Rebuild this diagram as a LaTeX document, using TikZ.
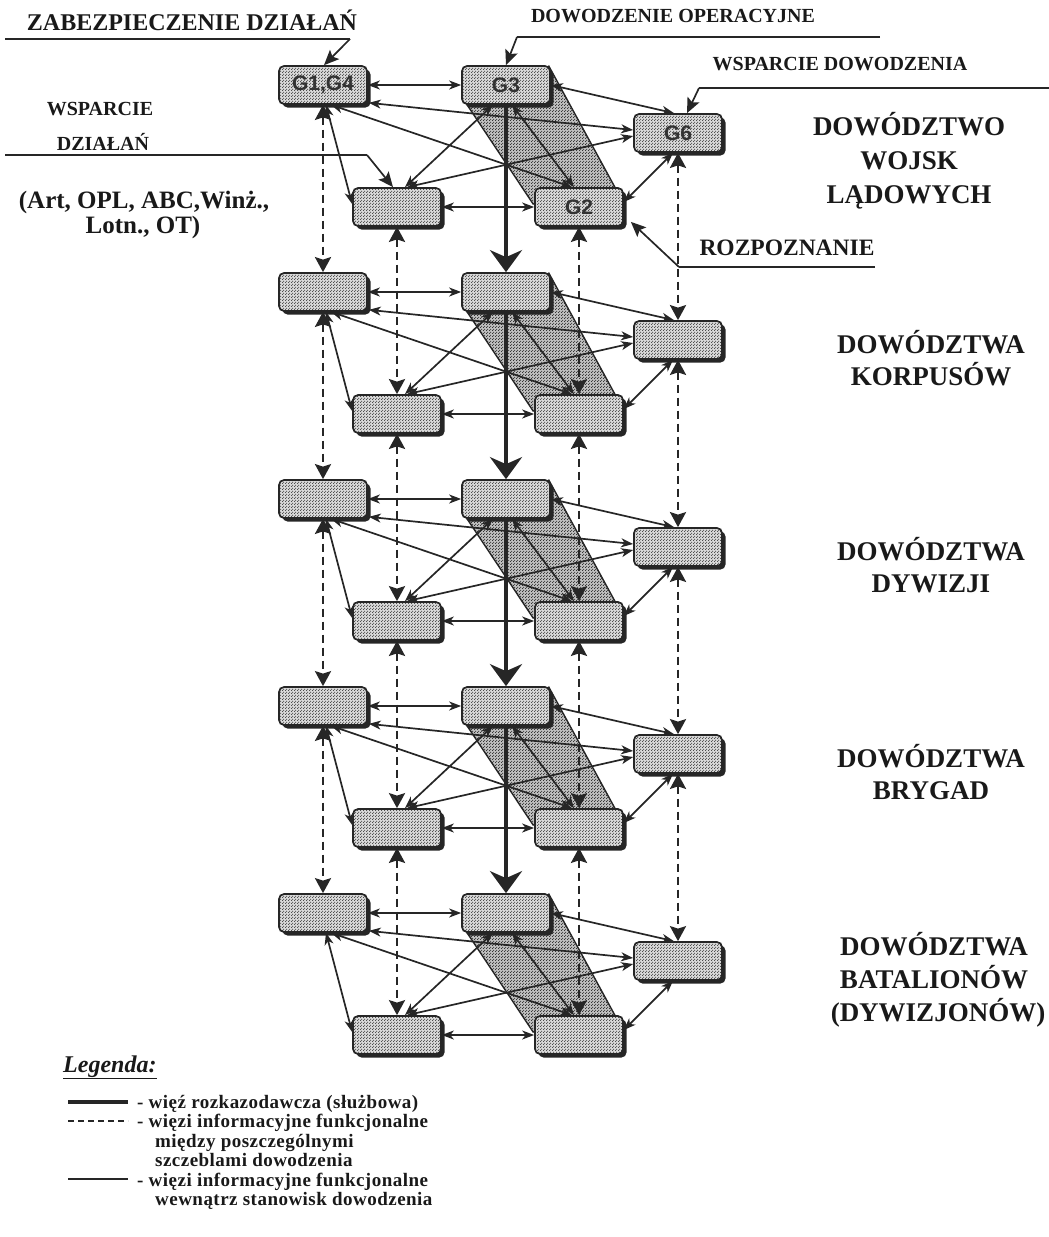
\documentclass[tikz,border=0pt]{standalone}
\usepackage{fontspec}
\setmainfont{Liberation Serif}
\newfontfamily\boxsans{Liberation Sans}
\newfontfamily\legserif[LetterSpace=2.5]{Liberation Serif}
\usetikzlibrary{arrows.meta,calc,patterns,shadows}
\pgfdeclarelayer{bg}
\pgfsetlayers{bg,main}
% fine stipple used for the boxes and the staff bands
\pgfdeclarepatternformonly{stipple}{\pgfpointorigin}{\pgfqpoint{3pt}{3pt}}{\pgfqpoint{3pt}{3pt}}{%
  \pgfpathcircle{\pgfqpoint{0.75pt}{0.75pt}}{0.7pt}%
  \pgfpathcircle{\pgfqpoint{2.25pt}{2.25pt}}{0.7pt}%
  \pgfusepath{fill}}

\tikzset{
  post/.style={draw=black!85, line width=1.7pt, rounded corners=5pt,
    minimum width=88pt, minimum height=38pt, inner sep=0pt,
    drop shadow={shadow xshift=3.5pt, shadow yshift=-3.5pt, fill=black!85, opacity=1},
    preaction={fill=gray!30}, pattern=stipple, pattern color=black!75,
    font=\boxsans\bfseries\fontsize{21}{21}\selectfont, text=black!80},
  band/.style={draw=black!85, line width=1.4pt, preaction={fill=gray!50},
    pattern=stipple, pattern color=black!85},
  link/.style={line width=1.7pt, draw=black!85,
    {Stealth[length=12pt,width=9pt,inset=3.5pt]}-{Stealth[length=12pt,width=9pt,inset=3.5pt]}},
  vlink/.style={line width=2.6pt, draw=black!85, dash pattern=on 8pt off 5pt,
    {Stealth[length=15pt,width=16pt,inset=2.5pt]}-{Stealth[length=15pt,width=16pt,inset=2.5pt]}},
  cmd/.style={line width=4.5pt, draw=black!85, -{Stealth[length=22pt,width=32pt,inset=7pt]}},
  lead/.style={line width=1.7pt, draw=black!85, -{Stealth[length=15pt,width=13pt,inset=3pt]}},
  rule/.style={line width=1.6pt, draw=black!85},
  txt/.style={anchor=base, inner sep=0pt, text=black!90},
  big/.style={txt, font=\bfseries\fontsize{27}{27}\selectfont},
  mid/.style={txt, font=\bfseries\fontsize{20}{20}\selectfont},
  leg/.style={anchor=base west, inner sep=0pt, text=black!90, font=\legserif\bfseries\fontsize{19}{19}\selectfont}
}

% one command level: five staff cells, the G3-G2 band and the links inside it
\newcommand{\szczebel}[6]{%
  \node[post] (A#1)  at (323,#2)     {#3};
  \node[post] (G3#1) at (506,#2)     {#4};
  \node[post] (G6#1) at (678,#2+48)  {#5};
  \node[post] (C#1)  at (397,#2+122) {};
  \node[post] (G2#1) at (579,#2+122) {#6};
  \begin{pgfonlayer}{bg}
    \draw[band] ($(G3#1.south west)+(6,0)$) -- ($(G3#1.north east)+(-2,1)$)
      -- ($(G2#1.north east)+(-9,0)$) -- ($(G2#1.west)+(-1,-3)$) -- cycle;
  \end{pgfonlayer}
  \draw[link] (A#1.east) -- (G3#1.west);
  \draw[link] ($(A#1.south east)+(1,-2)$) -- ($(G6#1.west)+(0,-3)$);
  \draw[link] ($(A#1.south)+(8,0)$) -- ($(G2#1.north)+(-7,0)$);
  \draw[link] ($(A#1.south)+(3,0)$) -- ($(C#1.west)+(0,-3)$);
  \draw[link] ($(C#1.north)+(8,0)$) -- ($(G3#1.south)+(-13,0)$);
  \draw[link] ($(C#1.north)+(10,0)$) -- ($(G6#1.west)+(0,3)$);
  \draw[link] (C#1.east) -- (G2#1.west);
  \draw[link] (G3#1.east) -- ($(G6#1.north)+(-4,0)$);
  \draw[link] ($(G3#1.south)+(6,0)$) -- ($(G2#1.north)+(-5,0)$);
  \draw[link] ($(G6#1.south)+(-5,0)$) -- ($(G2#1.east)+(0,-5)$);
}

\begin{document}
\begin{tikzpicture}[x=1pt,y=-1pt]
\useasboundingbox (0,0) rectangle (1049,1237);

\szczebel{0}{85}{G1,G4}{G3}{G6}{G2}
\szczebel{1}{292}{}{}{}{}
\szczebel{2}{499}{}{}{}{}
\szczebel{3}{706}{}{}{}{}
\szczebel{4}{913}{}{}{}{}

% links between consecutive levels
\foreach \i [evaluate=\i as \j using int(\i+1)] in {0,...,3} {
  \draw[vlink] (A\i.south) -- (A\j.north);
  \draw[vlink] (C\i.south) -- (C\j.north);
  \draw[vlink] (G2\i.south) -- (G2\j.north);
  \draw[vlink] (G6\i.south) -- (G6\j.north);
  \draw[cmd] (G3\i.south) -- (G3\j.north);
}

% functional areas at the top level
\node[txt, font=\bfseries\fontsize{24}{24}\selectfont] (tzab) at (192,30) {ZABEZPIECZENIE DZIAŁAŃ};
\coordinate (zab1) at (5,39);
\coordinate (zab2) at (350,39);
\draw[rule] (zab1) -- (zab2);
\draw[lead] (zab2) -- ($(A0.north)+(1,0)$);

\node[mid] (twsp1) at (100,115) {WSPARCIE};
\node[mid] (twsp2) at (103,150) {DZIAŁAŃ};
\coordinate (wsp1) at (5,155);
\coordinate (wsp2) at (367,155);
\draw[rule] (wsp1) -- (wsp2);
\draw[lead] (wsp2) -- ($(C0.north)+(-4,0)$);

\node[txt, font=\bfseries\fontsize{25}{25}\selectfont] (tart1) at (144,208) {(Art, OPL, ABC,Winż.,};
\node[txt, font=\bfseries\fontsize{25}{25}\selectfont] (tart2) at (143,233) {Lotn., OT)};

\node[mid] (tdow) at (673,22) {DOWODZENIE OPERACYJNE};
\coordinate (dow1) at (880,37);
\coordinate (dow2) at (517,37);
\draw[rule] (dow1) -- (dow2);
\draw[lead] (dow2) -- (G30.north);

\node[mid] (twd) at (840,70) {WSPARCIE DOWODZENIA};
\coordinate (wd1) at (1049,88);
\coordinate (wd2) at (699,88);
\draw[rule] (wd1) -- (wd2);
\draw[lead] (wd2) -- ($(G60.north)+(9,0)$);

\node[txt, font=\bfseries\fontsize{23.5}{23.5}\selectfont] (troz) at (787,255) {ROZPOZNANIE};
\coordinate (roz1) at (875,267);
\coordinate (roz2) at (679,267);
\draw[rule] (roz1) -- (roz2);
\draw[lead] (roz2) -- ($(G20.south east)+(7,-5)$);

% names of the command levels
\node[big] (n1a) at (909,135) {DOWÓDZTWO};
\node[big] (n1b) at (909,169) {WOJSK};
\node[big] (n1c) at (909,203) {LĄDOWYCH};
\node[big] (n2a) at (931,353) {DOWÓDZTWA};
\node[big] (n2b) at (931,385) {KORPUSÓW};
\node[big] (n3a) at (931,560) {DOWÓDZTWA};
\node[big] (n3b) at (931,592) {DYWIZJI};
\node[big] (n4a) at (931,767) {DOWÓDZTWA};
\node[big] (n4b) at (931,799) {BRYGAD};
\node[big] (n5a) at (934,955) {DOWÓDZTWA};
\node[big] (n5b) at (934,988) {BATALIONÓW};
\node[big] (n5c) at (938,1021) {(DYWIZJONÓW)};

% legend
\node[anchor=base west, inner sep=0pt, text=black!90,
  font=\bfseries\itshape\fontsize{24}{24}\selectfont] (legt) at (63,1072) {\underline{Legenda:}};
\coordinate (s1a) at (68,1102);  \coordinate (s1b) at (128,1102);
\coordinate (s2a) at (68,1121);  \coordinate (s2b) at (128,1121);
\coordinate (s3a) at (68,1179);  \coordinate (s3b) at (128,1179);
\draw[line width=4pt, draw=black!85] (s1a) -- (s1b);
\draw[line width=1.6pt, draw=black!85, dash pattern=on 6pt off 4pt] (s2a) -- (s2b);
\draw[line width=1.3pt, draw=black!85] (s3a) -- (s3b);
\node[leg] (l1) at (137,1108) {- więź rozkazodawcza (służbowa)};
\node[leg] (l2) at (137,1127.5) {- więzi informacyjne funkcjonalne};
\node[leg] (l3) at (155,1147) {między poszczególnymi};
\node[leg] (l4) at (155,1166.5) {szczeblami dowodzenia};
\node[leg] (l5) at (137,1186) {- więzi informacyjne funkcjonalne};
\node[leg] (l6) at (155,1205.5) {wewnątrz stanowisk dowodzenia};
\end{tikzpicture}
\end{document}
